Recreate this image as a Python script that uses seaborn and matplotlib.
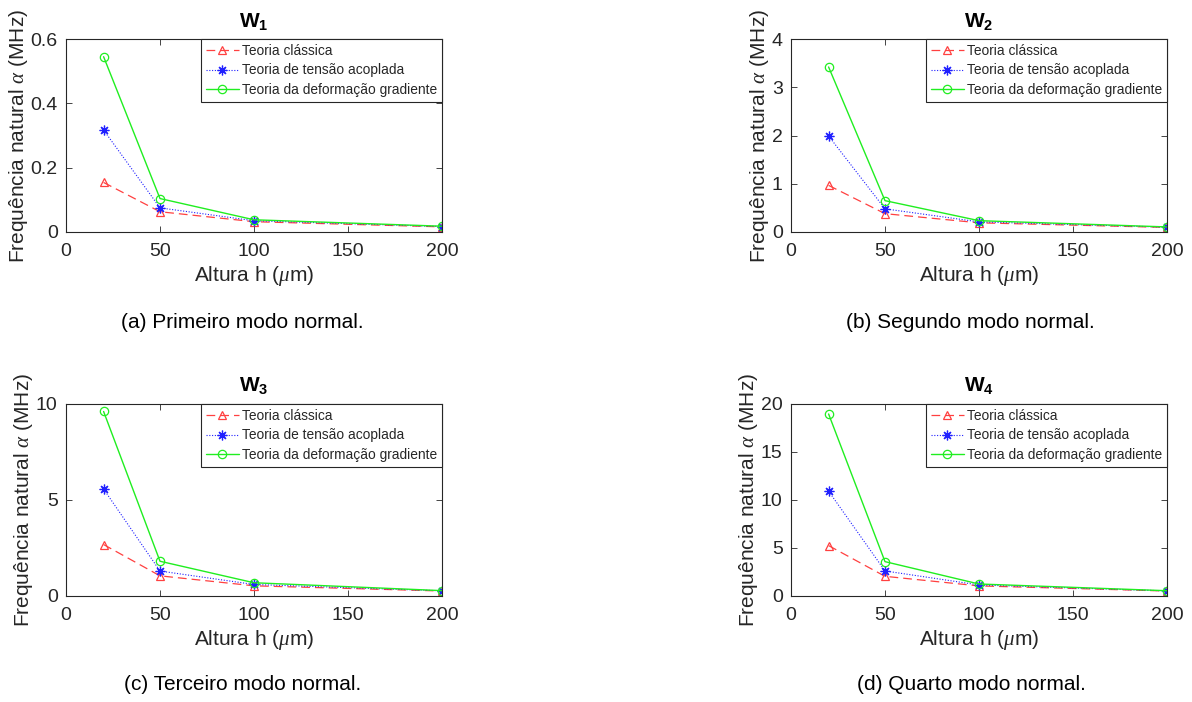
import matplotlib
matplotlib.use("Agg")
import matplotlib.pyplot as plt
import seaborn as sns
import pandas as pd

# ---- data ----
heights = [20, 50, 100, 200]
series_names = ["Teoria clássica", "Teoria de tensão acoplada", "Teoria da deformação gradiente"]

w1_classica = [0.154, 0.063, 0.032, 0.016]
w1_acoplada = [0.317, 0.075, 0.035, 0.017]
w1_gradiente = [0.545, 0.104, 0.038, 0.018]

w2_classica = [0.966, 0.38, 0.19, 0.095]
w2_acoplada = [1.99, 0.48, 0.21, 0.10]
w2_gradiente = [3.42, 0.65, 0.235, 0.105]

w3_classica = [2.68, 1.05, 0.53, 0.26]
w3_acoplada = [5.57, 1.30, 0.60, 0.27]
w3_gradiente = [9.61, 1.81, 0.69, 0.28]

w4_classica = [5.25, 2.05, 1.05, 0.52]
w4_acoplada = [10.92, 2.61, 1.15, 0.53]
w4_gradiente = [18.96, 3.58, 1.25, 0.55]

titles = [r"$\mathbf{W}_\mathbf{1}$", r"$\mathbf{W}_\mathbf{2}$",
          r"$\mathbf{W}_\mathbf{3}$", r"$\mathbf{W}_\mathbf{4}$"]
captions = ["(a) Primeiro modo normal.", "(b) Segundo modo normal.",
            "(c) Terceiro modo normal.", "(d) Quarto modo normal."]
y_ticks = [[0, 0.2, 0.4, 0.6], [0, 1, 2, 3, 4], [0, 5, 10], [0, 5, 10, 15, 20]]
y_tick_labels = [["0", "0.2", "0.4", "0.6"], ["0", "1", "2", "3", "4"],
                 ["0", "5", "10"], ["0", "5", "10", "15", "20"]]
x_ticks = [0, 50, 100, 150, 200]

panels = [
    (w1_classica, w1_acoplada, w1_gradiente),
    (w2_classica, w2_acoplada, w2_gradiente),
    (w3_classica, w3_acoplada, w3_gradiente),
    (w4_classica, w4_acoplada, w4_gradiente),
]

# ---- style ----
sns.set_theme(style="white")
plt.rcParams["font.family"] = ["Liberation Sans", "DejaVu Sans"]
plt.rcParams["mathtext.fontset"] = "custom"
plt.rcParams["mathtext.rm"] = "Liberation Sans"
plt.rcParams["mathtext.it"] = "Liberation Serif:italic"
plt.rcParams["mathtext.bf"] = "Liberation Sans:bold"

DARK = "#262626"
ASTERISK = (8, 2, 0)
styles = [
    dict(color="#ff4040", linestyle=(0, (7, 4)), marker="^", lw=0.9, ms=6),
    dict(color="#2020ff", linestyle=(0, (1, 1.5)), marker=ASTERISK, lw=0.8, ms=7),
    dict(color="#20ee20", linestyle="-", marker="o", lw=1.0, ms=6),
]

W, H = 1192, 702
fig = plt.figure(figsize=(W / 100, H / 100), dpi=100)

# axes positions in pixels: left, right, top, bottom
boxes = [(66, 442, 39, 232), (791, 1167, 39, 232),
         (66, 442, 404, 596), (791, 1167, 404, 596)]
cap_pos = [(242, 322), (970, 322), (243, 685), (971, 685)]

for i, (vals, box) in enumerate(zip(panels, boxes)):
    l, r, t, b = box
    ax = fig.add_axes([l / W, 1 - b / H, (r - l) / W, (b - t) / H])
    for name, v, st in zip(series_names, vals, styles):
        df = pd.DataFrame({"h": heights, "f": v})
        sns.lineplot(data=df, x="h", y="f", ax=ax, label=name,
                     color=st["color"], linestyle=st["linestyle"],
                     marker=st["marker"], markersize=st["ms"],
                     markerfacecolor="none",
                     markeredgecolor=st["color"], markeredgewidth=0.9,
                     linewidth=st["lw"])
    ax.set_xlim(0, 200)
    ax.set_ylim(y_ticks[i][0], y_ticks[i][-1])
    ax.set_xticks(x_ticks)
    ax.set_xticklabels([str(x) for x in x_ticks])
    ax.set_yticks(y_ticks[i])
    ax.set_yticklabels(y_tick_labels[i])
    ax.tick_params(direction="in", length=4, width=0.6, colors=DARK,
                   labelsize=14, top=True, right=True, bottom=True, left=True)
    ax.tick_params(axis="x", pad=8)
    ax.tick_params(axis="y", pad=6)
    for s in ax.spines.values():
        s.set_color(DARK)
        s.set_linewidth(0.8)
    ax.set_xlabel(r"Altura h ($\mu$m)", fontsize=15, color=DARK, labelpad=3)
    ax.set_ylabel(r"Frequência natural $\alpha$ (MHz)", fontsize=15, color=DARK, labelpad=0.5)
    ax.set_title(titles[i], fontsize=15, color="black", pad=9)
    leg = ax.legend(loc="upper right", borderaxespad=0, fancybox=False,
                    edgecolor=DARK, framealpha=1, fontsize=9.9,
                    handlelength=2.4, handletextpad=0.25, labelspacing=0.4,
                    borderpad=0.35)
    leg.get_frame().set_linewidth(0.8)
    cx, cy = cap_pos[i]
    fig.text(cx / W, 1 - cy / H, captions[i], ha="center", va="center",
             fontsize=15, color="black")

fig.savefig("out.png", dpi=100)
